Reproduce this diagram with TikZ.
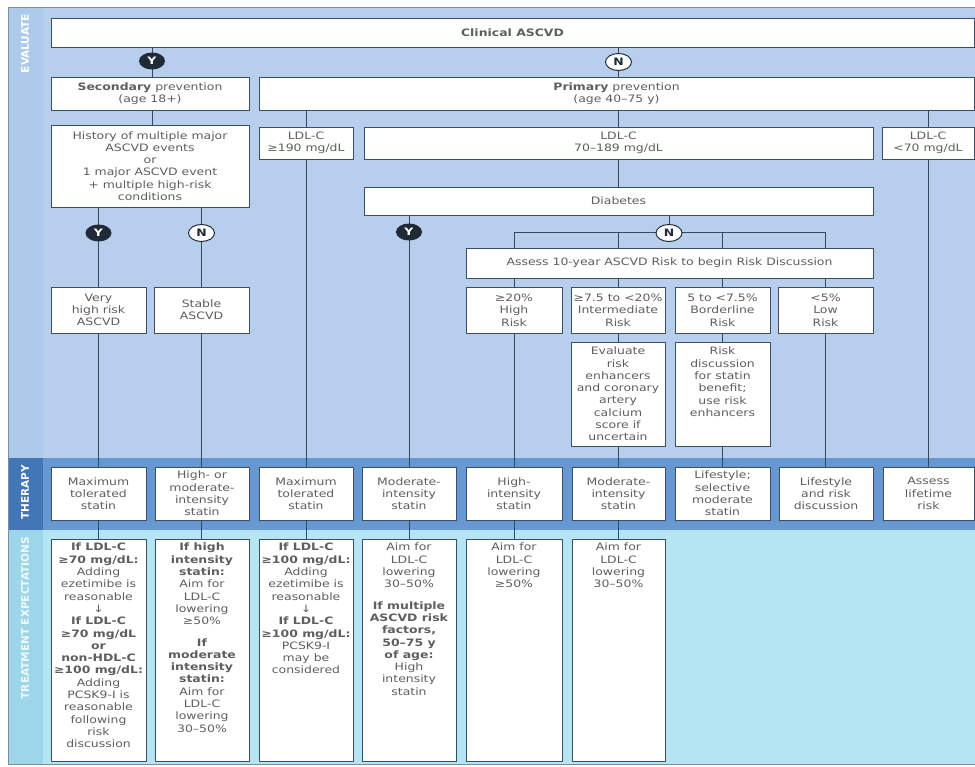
\documentclass[tikz,border=0pt]{standalone}
\usepackage{fontspec}
\setmainfont{DejaVu Sans}[FakeStretch=1.22]
\newfontfamily\lblfont{DejaVu Sans}
\usetikzlibrary{calc,shapes.geometric}
\pgfdeclarelayer{bands}
\pgfdeclarelayer{wires}
\pgfsetlayers{bands,wires,main}
\definecolor{evbg}{HTML}{B7CFEC}
\definecolor{evstrip}{HTML}{AECAEA}
\definecolor{thbg}{HTML}{6898D1}
\definecolor{thstrip}{HTML}{4276B7}
\definecolor{exbg}{HTML}{B5E5F2}
\definecolor{exstrip}{HTML}{9DD5E9}
\definecolor{boxline}{HTML}{3A4E63}
\definecolor{wirec}{HTML}{34495E}
\definecolor{txtc}{HTML}{5E5E5E}
\definecolor{ydark}{HTML}{1F2A36}
\definecolor{framec}{HTML}{7D8D9E}
\newcommand{\boxfont}{\fontsize{10.2}{12.3}\selectfont}
\newcommand{\bt}[1]{\textbf{#1}}
\tikzset{
  box/.style={draw=boxline, line width=0.9pt, fill=white, anchor=north west,
    inner sep=2pt, outer sep=0pt, align=center, font=\boxfont, text=txtc},
  btxt/.style={inner sep=0pt, align=center, font=\boxfont, text=txtc},
  wire/.style={draw=wirec, line width=1pt},
  ycirc/.style={ellipse, fill=ydark, text=white, font=\boxfont\bfseries,
    inner sep=0pt, minimum width=26pt, minimum height=17pt},
  ncirc/.style={ellipse, draw=ydark, fill=white, text=ydark, line width=1pt,
    font=\boxfont\bfseries, inner sep=0pt, minimum width=26pt, minimum height=17pt},
  lbl/.style={rotate=90, anchor=east, text=white, inner sep=0pt,
    font=\lblfont\bfseries\fontsize{10.5}{12}\selectfont}
}
\begin{document}
\begin{tikzpicture}[x=1pt,y=-1pt]
\useasboundingbox (0,0) rectangle (975,767);
% ---------- bands ----------
\begin{pgfonlayer}{bands}
\fill[white] (0,0) rectangle (975,767);
\fill[evbg] (8,7) rectangle (975,458);
\fill[evstrip] (8,7) rectangle (43,458);
\fill[thbg] (8,458) rectangle (975,530);
\fill[thstrip] (8,458) rectangle (43,530);
\fill[exbg] (8,530) rectangle (975,764);
\fill[exstrip] (8,530) rectangle (43,764);
\draw[framec, line width=0.8pt] (975,7) -- (8,7) -- (8,764) -- (975,764);
\end{pgfonlayer}
\node[lbl] (lev) at (25,14) {EVALUATE};
\node[lbl] (lth) at (25,465) {THERAPY};
\node[lbl, text=white!85!exstrip] (lex) at (25,537) {TREATMENT EXPECTATIONS};
% ---------- boxes ----------
\node[box, minimum width=923, minimum height=29] (clin) at (51,18) {\bt{Clinical ASCVD}};
\node[box, minimum width=198, minimum height=33] (sec) at (51,77) {\bt{Secondary} prevention\\(age 18+)};
\node[box, minimum width=715, minimum height=33] (pri) at (259,77) {\bt{Primary} prevention\\(age 40–75 y)};
\node[box, minimum width=198, minimum height=82] (hist) at (51,125)
  {History of multiple major\\ASCVD events\\or\\1 major ASCVD event\\+ multiple high-risk\\conditions};
\node[box, minimum width=94, minimum height=32] (ldl190) at (259,127) {LDL-C\\≥190 mg/dL};
\node[box, minimum width=509, minimum height=32] (ldl70) at (364,127) {LDL-C\\70–189 mg/dL};
\node[box, minimum width=92, minimum height=32] (ldllow) at (882,127) {LDL-C\\<70 mg/dL};
\node[box, minimum width=509, minimum height=28] (diab) at (364,187) {Diabetes};
\node[box, minimum width=407, minimum height=30] (assess) at (466,248) {Assess 10-year ASCVD Risk to begin Risk Discussion};
\node[box, minimum width=95, minimum height=46] (vhr) at (51,287) {Very\\high risk\\ASCVD};
\node[box, minimum width=95, minimum height=46] (stab) at (154,287) {Stable\\ASCVD};
\node[box, minimum width=96, minimum height=46] (r20) at (466,287) {≥20\%\\High\\Risk};
\node[box, minimum width=94, minimum height=46] (r75) at (571,287) {≥7.5 to <20\%\\Intermediate\\Risk};
\node[box, minimum width=95, minimum height=46] (r5) at (675,287) {5 to <7.5\%\\Borderline\\Risk};
\node[box, minimum width=95, minimum height=46] (rlow) at (778,287) {<5\%\\Low\\Risk};
\node[box, minimum width=94, minimum height=104] (evalbx) at (571,342)
  {Evaluate\\risk\\enhancers\\and coronary\\artery\\calcium\\score if\\uncertain};
\node[box, minimum width=95, minimum height=104] (riskdisc) at (675,342) {};
\node[btxt, anchor=north] (rdt) at ([yshift=-5pt]riskdisc.north)
  {Risk\\discussion\\for statin\\benefit;\\use risk\\enhancers};
% therapy row
\node[box, minimum width=95, minimum height=53] (t1) at (51,467) {Maximum\\tolerated\\statin};
\node[box, minimum width=94, minimum height=53] (t2) at (155,467) {High- or\\moderate-\\intensity\\statin};
\node[box, minimum width=94, minimum height=53] (t3) at (259,467) {Maximum\\tolerated\\statin};
\node[box, minimum width=94, minimum height=53] (t4) at (362,467) {Moderate-\\intensity\\statin};
\node[box, minimum width=96, minimum height=53] (t5) at (466,467) {High-\\intensity\\statin};
\node[box, minimum width=93, minimum height=53] (t6) at (572,467) {Moderate-\\intensity\\statin};
\node[box, minimum width=95, minimum height=53] (t7) at (675,467) {Lifestyle;\\selective\\moderate\\statin};
\node[box, minimum width=94, minimum height=53] (t8) at (779,467) {Lifestyle\\and risk\\discussion};
\node[box, minimum width=91, minimum height=53] (t9) at (883,467) {Assess\\lifetime\\risk};
% expectation row
\node[box, minimum width=95, minimum height=222] (e1) at (51,539) {};
\node[box, minimum width=94, minimum height=222] (e2) at (155,539) {};
\node[box, minimum width=94, minimum height=222] (e3) at (259,539) {};
\node[box, minimum width=94, minimum height=222] (e4) at (362,539) {};
\node[box, minimum width=96, minimum height=222] (e5) at (466,539) {};
\node[box, minimum width=93, minimum height=222] (e6) at (572,539) {};
\node[btxt, anchor=north] (e1t) at ([yshift=-4pt]e1.north)
  {\bt{If LDL-C}\\\bt{≥70 mg/dL:}\\Adding\\ezetimibe is\\reasonable\\↓\\\bt{If LDL-C}\\\bt{≥70 mg/dL}\\\bt{or}\\\bt{non-HDL-C}\\\bt{≥100 mg/dL:}\\Adding\\PCSK9-I is\\reasonable\\following\\risk\\discussion};
\node[btxt, anchor=north] (e2t) at ([yshift=-4pt]e2.north)
  {\bt{If high}\\\bt{intensity}\\\bt{statin:}\\Aim for\\LDL-C\\lowering\\≥50\%\\[9pt]\bt{If}\\\bt{moderate}\\\bt{intensity}\\\bt{statin:}\\Aim for\\LDL-C\\lowering\\30–50\%};
\node[btxt, anchor=north] (e3t) at ([yshift=-4pt]e3.north)
  {\bt{If LDL-C}\\\bt{≥100 mg/dL:}\\Adding\\ezetimibe is\\reasonable\\↓\\\bt{If LDL-C}\\\bt{≥100 mg/dL:}\\PCSK9-I\\may be\\considered};
\node[btxt, anchor=north] (e4t) at ([yshift=-4pt]e4.north)
  {Aim for\\LDL-C\\lowering\\30–50\%\\[9pt]\bt{If multiple}\\\bt{ASCVD risk}\\\bt{factors,}\\\bt{50–75 y}\\\bt{of age:}\\High\\intensity\\statin};
\node[btxt, anchor=north] (e5t) at ([yshift=-4pt]e5.north) {Aim for\\LDL-C\\lowering\\≥50\%};
\node[btxt, anchor=north] (e6t) at ([yshift=-4pt]e6.north) {Aim for\\LDL-C\\lowering\\30–50\%};
% ---------- Y / N markers ----------
\node[ycirc] (yc1) at (152,61) {Y};
\node[ncirc] (nc1) at (618.5,62) {N};
\node[ycirc] (yc2) at (98.5,233) {Y};
\node[ncirc] (nc2) at (201.5,233) {N};
\node[ycirc] (yc3) at (409,232) {Y};
\node[ncirc] (nc3) at (669,233) {N};
% ---------- connectors ----------
\begin{pgfonlayer}{wires}
\draw[wire] (yc1 |- clin.south) -- (yc1 |- sec.north);
\draw[wire] (nc1 |- clin.south) -- (nc1 |- pri.north);
\draw[wire] (yc1 |- sec.south) -- (yc1 |- hist.north);
\draw[wire] (ldl190.north |- pri.south) -- (ldl190.north);
\draw[wire] (ldl70.north |- pri.south) -- (ldl70.north);
\draw[wire] (ldllow.north |- pri.south) -- (ldllow.north);
\draw[wire] (ldl70.south) -- (diab.north);
\draw[wire] (yc2 |- hist.south) -- (yc2 |- vhr.north);
\draw[wire] (nc2 |- hist.south) -- (nc2 |- stab.north);
\draw[wire] (yc3 |- diab.south) -- (yc3 |- t4.north);
\draw[wire] (nc3 |- diab.south) -- (nc3);
\draw[wire] (r20.north |- nc3) -- (rlow.north |- nc3);
\foreach \n in {r20,r75,r5,rlow}{
  \draw[wire] (\n.north |- nc3) -- (\n.north |- assess.north);
  \draw[wire] (\n.north |- assess.south) -- (\n.north);
}
\draw[wire] (yc2 |- vhr.south) -- (yc2 |- t1.north);
\draw[wire] (nc2 |- stab.south) -- (nc2 |- t2.north);
\draw[wire] (ldl190.south) -- (ldl190.south |- t3.north);
\draw[wire] (r20.south) -- (r20.south |- t5.north);
\draw[wire] (r75.south) -- (r75.south |- evalbx.north);
\draw[wire] (r75.south |- evalbx.south) -- (r75.south |- t6.north);
\draw[wire] (r5.south) -- (r5.south |- riskdisc.north);
\draw[wire] (r5.south |- riskdisc.south) -- (r5.south |- t7.north);
\draw[wire] (rlow.south) -- (rlow.south |- t8.north);
\draw[wire] (ldllow.south) -- (ldllow.south |- t9.north);
\draw[wire] (yc2 |- t1.south) -- (yc2 |- e1.north);
\draw[wire] (nc2 |- t2.south) -- (nc2 |- e2.north);
\draw[wire] (ldl190.south |- t3.south) -- (ldl190.south |- e3.north);
\draw[wire] (yc3 |- t4.south) -- (yc3 |- e4.north);
\draw[wire] (r20.south |- t5.south) -- (r20.south |- e5.north);
\draw[wire] (r75.south |- t6.south) -- (r75.south |- e6.north);
\end{pgfonlayer}
\end{tikzpicture}
\end{document}
